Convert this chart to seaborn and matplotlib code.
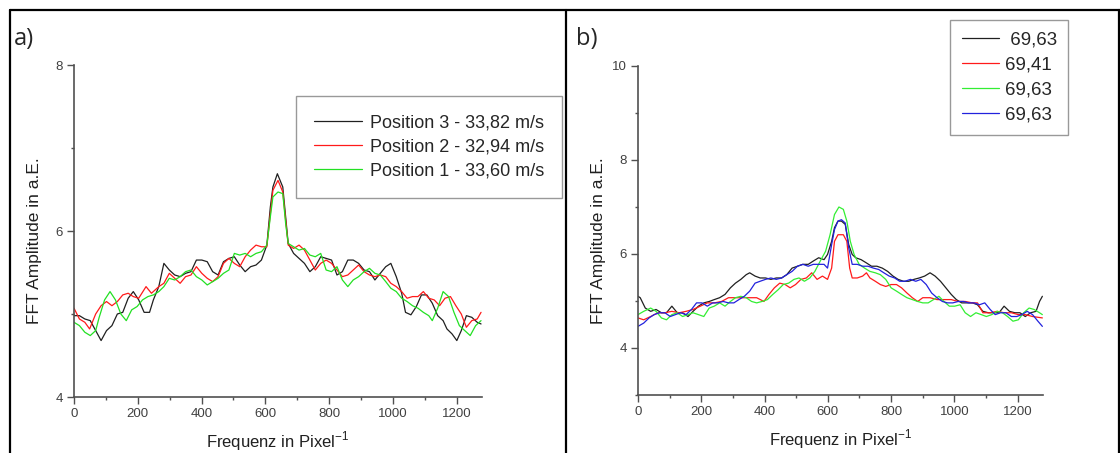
import numpy as np
import pandas as pd
import matplotlib
matplotlib.use("Agg")
import matplotlib.pyplot as plt
from matplotlib.lines import Line2D
from matplotlib.ticker import MultipleLocator
import seaborn as sns

# ---------------- data: panel a ----------------
a_black_x = [0,17,34,51,68,85,102,119,136,153,170,186,203,220,237,249,266,282,299,316,333,350,367,384,401,418,435,452,469,486,503,520,537,554,571,588,605,616,624,638,655,664,672,689,706,723,740,757,774,791,808,825,842,859,876,893,910,927,944,961,978,994,1011,1028,1040,1057,1074,1090,1107,1124,1141,1158,1170,1186,1201,1215,1231,1248,1265,1277]
a_black_y = [4.98,4.98,4.94,4.92,4.80,4.68,4.80,4.86,5.00,5.02,5.19,5.27,5.17,5.02,5.02,5.17,5.33,5.61,5.53,5.47,5.45,5.49,5.51,5.65,5.65,5.63,5.51,5.47,5.63,5.67,5.69,5.59,5.51,5.57,5.59,5.65,5.83,6.29,6.53,6.69,6.53,6.17,5.85,5.73,5.67,5.61,5.51,5.57,5.69,5.67,5.65,5.47,5.51,5.65,5.65,5.61,5.53,5.51,5.41,5.49,5.57,5.61,5.45,5.25,5.02,4.99,5.09,5.23,5.23,5.13,4.98,4.92,4.82,4.76,4.68,4.80,4.98,4.96,4.90,4.88]

a_red_x = [0,17,34,49,68,85,102,119,136,153,170,186,203,226,243,266,282,299,316,333,350,367,384,401,418,435,452,469,486,503,520,537,554,571,588,605,616,624,640,655,664,672,689,706,723,740,757,774,791,808,825,842,859,876,893,910,927,944,961,978,994,1011,1028,1045,1062,1079,1096,1113,1130,1147,1164,1181,1198,1215,1231,1248,1265,1277]
a_red_y = [5.07,4.94,4.90,4.82,5.00,5.10,5.15,5.10,5.15,5.23,5.25,5.21,5.19,5.33,5.25,5.33,5.37,5.49,5.43,5.37,5.45,5.47,5.57,5.49,5.43,5.39,5.45,5.61,5.67,5.61,5.57,5.69,5.77,5.83,5.81,5.81,6.21,6.49,6.61,6.47,6.13,5.83,5.79,5.83,5.77,5.65,5.53,5.61,5.65,5.61,5.53,5.45,5.47,5.53,5.59,5.51,5.47,5.45,5.47,5.45,5.37,5.33,5.27,5.19,5.21,5.21,5.27,5.19,5.17,5.10,5.19,5.21,5.10,5.00,4.84,4.92,4.94,5.02]

a_green_x = [0,17,34,51,68,79,96,113,130,147,164,181,198,215,232,249,266,282,299,316,333,350,367,384,401,418,435,452,469,486,503,520,537,554,571,588,605,616,624,640,655,664,672,689,706,723,740,757,774,791,808,825,842,859,876,893,910,927,944,961,978,994,1011,1028,1045,1062,1079,1096,1113,1124,1141,1158,1175,1192,1209,1226,1243,1260,1277]
a_green_y = [4.90,4.86,4.78,4.74,4.80,4.96,5.17,5.27,5.17,5.00,4.92,5.05,5.09,5.17,5.21,5.23,5.27,5.33,5.43,5.41,5.45,5.51,5.53,5.45,5.41,5.35,5.39,5.43,5.49,5.53,5.73,5.71,5.73,5.69,5.73,5.75,5.83,6.17,6.41,6.47,6.45,6.09,5.85,5.81,5.77,5.79,5.71,5.69,5.73,5.53,5.51,5.57,5.41,5.33,5.41,5.45,5.51,5.55,5.49,5.47,5.39,5.31,5.27,5.19,5.15,5.10,5.07,5.02,4.98,4.92,5.07,5.27,5.21,5.02,4.86,4.80,4.74,4.86,4.92]

a_labels = ["Position 3 - 33,82 m/s", "Position 2 - 32,94 m/s", "Position 1 - 33,60 m/s"]

# ---------------- data: panel b ----------------
b_black_x = [0,7,23,40,57,74,90,107,124,141,158,174,191,208,225,241,258,275,292,308,325,342,353,370,386,403,420,437,454,470,487,504,521,538,554,571,588,599,612,621,632,643,655,666,677,688,705,722,738,755,772,789,806,822,839,856,872,889,906,923,939,956,973,990,1006,1023,1040,1057,1073,1090,1107,1124,1141,1157,1174,1191,1207,1224,1241,1258,1269,1278]
b_black_y = [5.10,5.07,4.85,4.78,4.82,4.75,4.75,4.89,4.75,4.75,4.67,4.78,4.89,4.96,4.99,5.03,5.07,5.14,5.28,5.38,5.46,5.56,5.60,5.53,5.49,5.49,5.46,5.49,5.49,5.56,5.70,5.74,5.78,5.78,5.85,5.92,5.88,5.99,6.27,6.56,6.70,6.70,6.63,6.20,5.99,5.92,5.88,5.81,5.74,5.74,5.70,5.63,5.53,5.46,5.42,5.42,5.46,5.49,5.53,5.60,5.53,5.42,5.28,5.14,5.03,4.96,4.96,4.96,4.92,4.78,4.75,4.75,4.75,4.89,4.78,4.75,4.75,4.67,4.75,4.78,4.99,5.10]

b_red_x = [0,18,40,63,85,107,130,152,174,197,219,241,264,286,308,331,353,375,398,414,431,448,465,481,498,515,532,549,566,583,599,612,621,632,649,660,669,677,693,710,722,733,750,766,783,800,817,833,850,867,884,900,923,945,967,990,1012,1034,1057,1073,1090,1112,1135,1157,1180,1202,1224,1247,1278]
b_red_y = [4.64,4.60,4.67,4.75,4.75,4.78,4.75,4.78,4.82,4.89,4.96,4.96,4.99,5.07,5.07,5.07,5.07,5.07,4.99,5.14,5.28,5.38,5.35,5.28,5.35,5.46,5.49,5.60,5.46,5.53,5.46,5.70,6.27,6.41,6.41,6.27,5.70,5.49,5.49,5.53,5.60,5.49,5.42,5.35,5.31,5.35,5.35,5.28,5.17,5.07,4.99,5.07,5.07,5.03,5.03,5.03,4.99,4.99,4.96,4.96,4.75,4.75,4.78,4.75,4.75,4.71,4.71,4.67,4.64]

b_green_x = [0,18,40,57,74,90,107,124,141,158,174,191,208,225,241,258,275,292,308,325,342,359,375,392,409,426,443,459,476,493,509,526,543,559,576,593,607,621,635,649,660,671,683,699,716,733,750,766,783,800,817,833,850,867,884,900,917,934,951,967,984,1001,1018,1034,1051,1068,1085,1101,1118,1135,1152,1168,1185,1202,1219,1236,1252,1269,1278]
b_green_y = [4.71,4.78,4.85,4.78,4.64,4.60,4.71,4.75,4.67,4.71,4.75,4.71,4.67,4.85,4.89,4.96,4.89,4.99,5.07,5.10,5.07,4.99,4.96,4.99,5.03,5.14,5.24,5.35,5.38,5.46,5.49,5.42,5.49,5.63,5.85,6.06,6.41,6.84,7.00,6.95,6.70,6.27,5.99,5.78,5.70,5.63,5.60,5.56,5.46,5.28,5.21,5.14,5.07,5.03,4.99,4.96,4.96,5.03,5.10,4.99,4.89,4.89,4.92,4.75,4.67,4.75,4.71,4.67,4.71,4.78,4.75,4.67,4.57,4.60,4.75,4.85,4.82,4.75,4.71]

b_blue_x = [0,18,35,51,68,85,102,118,135,152,169,185,202,219,236,252,269,286,303,319,336,353,370,386,403,420,437,454,470,487,504,521,538,554,571,588,599,612,621,632,643,655,666,677,693,710,727,744,761,777,794,811,827,844,861,878,894,911,928,945,962,978,995,1012,1029,1045,1062,1079,1096,1113,1129,1146,1163,1180,1197,1213,1230,1247,1264,1278]
b_blue_y = [4.46,4.53,4.64,4.71,4.75,4.75,4.67,4.71,4.75,4.71,4.82,4.96,4.96,4.89,4.96,4.96,4.99,4.96,4.96,5.03,5.10,5.21,5.38,5.42,5.46,5.49,5.46,5.49,5.56,5.63,5.74,5.78,5.74,5.78,5.78,5.78,5.70,6.20,6.52,6.70,6.73,6.66,6.13,5.78,5.78,5.74,5.74,5.70,5.67,5.60,5.53,5.49,5.42,5.42,5.46,5.42,5.46,5.35,5.17,5.07,4.99,4.96,4.96,4.99,4.99,4.96,4.96,4.92,4.96,4.82,4.71,4.75,4.75,4.67,4.67,4.71,4.78,4.71,4.57,4.46]

b_labels = [" 69,63", "69,41", "69,63", "69,63"]

# ---------------- styling ----------------
sns.set_theme(style="white")
plt.rcParams['font.family'] = ['Liberation Sans', 'DejaVu Sans']
plt.rcParams['mathtext.fontset'] = 'custom'
plt.rcParams['mathtext.rm'] = 'Liberation Sans'

W, H = 1120, 453
fig = plt.figure(figsize=(W / 100, H / 100), dpi=100)
fig.patch.set_facecolor("white")

def fx(px):
    return px / W

def fy(py):
    return 1 - py / H

ax_a = fig.add_axes([fx(74), fy(397), fx(482) - fx(74), fy(65) - fy(397)])
ax_b = fig.add_axes([fx(638), fy(395), fx(1043) - fx(638), fy(66) - fy(395)])

spine_col = "#505050"
tick_col = "#404040"

def style_axes(ax, ymin, ymax, yticks, width_px, height_px):
    ax.set_xlim(0, 1280)
    ax.set_ylim(ymin, ymax)
    ax.set_facecolor("white")
    for s in ["top", "right"]:
        ax.spines[s].set_visible(False)
    for s in ["left", "bottom"]:
        ax.spines[s].set_color(spine_col)
        ax.spines[s].set_linewidth(1.2)
    ax.set_xticks([0, 200, 400, 600, 800, 1000, 1200])
    ax.xaxis.set_minor_locator(MultipleLocator(100))
    ax.set_yticks(yticks)
    ax.yaxis.set_minor_locator(MultipleLocator(1))
    ax.tick_params(axis="both", which="major", direction="out", length=5, width=1.0,
                   color=spine_col, labelsize=9.5, labelcolor=tick_col, pad=3,
                   bottom=True, left=True)
    ax.tick_params(axis="both", which="minor", direction="out", length=2.5, width=1.0,
                   color=spine_col, bottom=True, left=True)
    ax.set_xlabel(r"Frequenz in Pixel$^{\mathregular{-1}}$", fontsize=12, color="#202020")
    ax.set_ylabel("FFT Amplitude in a.E.", fontsize=12.5, color="#202020")
    ax.xaxis.set_label_coords(0.5, -32 / height_px)
    ax.yaxis.set_label_coords(-32 / width_px, 0.47)
    ax.grid(False)

def draw(ax, xs, ys, color, label):
    df = pd.DataFrame({"x": xs, "y": ys})
    sns.lineplot(data=df, x="x", y="y", ax=ax, color=color, linewidth=0.9,
                 sort=False, estimator=None, label=label)

draw(ax_a, a_black_x, a_black_y, "#202020", a_labels[0])
draw(ax_a, a_red_x, a_red_y, "#ff1a1a", a_labels[1])
draw(ax_a, a_green_x, a_green_y, "#22e022", a_labels[2])
style_axes(ax_a, 4, 8, [4, 6, 8], 408, 332)

draw(ax_b, b_black_x, b_black_y, "#202020", b_labels[0])
draw(ax_b, b_red_x, b_red_y, "#ff1a1a", b_labels[1])
draw(ax_b, b_green_x, b_green_y, "#33ee33", b_labels[2])
draw(ax_b, b_blue_x, b_blue_y, "#2222dd", b_labels[3])
style_axes(ax_b, 3, 10, [4, 6, 8, 10], 405, 329)

leg_a = ax_a.legend(loc="upper right", bbox_to_anchor=(fx(562), fy(96)),
                    bbox_transform=fig.transFigure, borderaxespad=0,
                    fontsize=13, frameon=True, fancybox=False, handlelength=2.7,
                    handletextpad=0.4, labelspacing=0.4, borderpad=1.0)
leg_a.get_frame().set_edgecolor("#808080")
leg_a.get_frame().set_linewidth(1.0)

leg_b = ax_b.legend(loc="upper right", bbox_to_anchor=(fx(1068), fy(20)),
                    bbox_transform=fig.transFigure, borderaxespad=0,
                    fontsize=13.5, frameon=True, fancybox=False, handlelength=2.0,
                    handletextpad=0.3, labelspacing=0.42, borderpad=0.6)
leg_b.get_frame().set_edgecolor("#808080")
leg_b.get_frame().set_linewidth(1.0)

# panel frames
frame_kw = dict(color="black", linewidth=1.6, transform=fig.transFigure)
fig.add_artist(Line2D([fx(10), fx(1120)], [fy(10), fy(10)], **frame_kw))
fig.add_artist(Line2D([fx(10), fx(10)], [fy(10), 0], **frame_kw))
fig.add_artist(Line2D([fx(566), fx(566)], [fy(10), 0], **frame_kw))
fig.add_artist(Line2D([fx(1119), fx(1119)], [fy(10), 0], **frame_kw))

fig.text(fx(14), fy(39), "a)", fontsize=17, family=["Open Sans", "DejaVu Sans"], va="center", ha="left")
fig.text(fx(576), fy(39), "b)", fontsize=17, family=["Open Sans", "DejaVu Sans"], va="center", ha="left")

fig.savefig("out.png", dpi=100, facecolor="white")
